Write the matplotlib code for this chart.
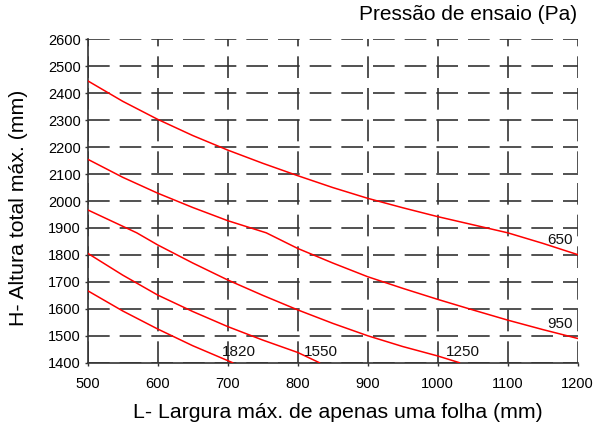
import matplotlib
matplotlib.use("Agg")
import matplotlib.pyplot as plt

plt.rcParams['font.family'] = ['Liberation Sans', 'DejaVu Sans']

# curves (width mm -> height mm)
x_650 = [500, 550, 600, 650, 700, 750, 800, 850, 900, 950, 1000, 1050, 1100, 1150, 1200]
y_650 = [2446, 2370, 2303, 2243, 2189, 2140, 2094, 2050, 2010, 1975, 1942, 1912, 1882, 1843, 1801]

x_950 = [500, 550, 600, 650, 700, 755, 800, 850, 900, 950, 1000, 1050, 1100, 1150, 1200]
y_950 = [2155, 2088, 2029, 1976, 1927, 1882, 1824, 1770, 1719, 1676, 1635, 1596, 1558, 1523, 1490]

x_1250 = [500, 570, 600, 650, 700, 750, 800, 850, 900, 950, 1000, 1031]
y_1250 = [1967, 1882, 1837, 1770, 1707, 1650, 1596, 1546, 1500, 1460, 1425, 1400]

x_1550 = [500, 550, 600, 650, 700, 750, 800, 831]
y_1550 = [1806, 1725, 1651, 1590, 1534, 1484, 1438, 1400]

x_1820 = [500, 550, 600, 650, 707]
y_1820 = [1667, 1592, 1525, 1463, 1400]

curves = [(x_650, y_650), (x_950, y_950), (x_1250, y_1250), (x_1550, y_1550), (x_1820, y_1820)]
labels = ['650', '950', '1250', '1550', '1820']
label_pos = [(1193, 1855), (1193, 1542), (1060, 1441), (858, 1441), (740, 1441)]

xticks = list(range(500, 1201, 100))
yticks = list(range(1400, 2601, 100))

fig = plt.figure(figsize=(5.95, 4.25), dpi=100)
ax = fig.add_axes([0.1474, 0.1466, 0.8235, 0.7609])

for (xs, ys) in curves:
    ax.plot(xs, ys, color='#ff0000', lw=1.1, zorder=3)

for lab, (tx, ty) in zip(labels, label_pos):
    ax.text(tx, ty, lab, ha='right', va='center', fontsize=11, color='#111111', zorder=4)

ax.set_xlim(500, 1200)
ax.set_ylim(1400, 2600)
ax.set_xticks(xticks)
ax.set_yticks(yticks)
ax.tick_params(labelsize=10.5, length=2, width=1, color='#333333')
ax.tick_params(axis='x', pad=8)
ax.tick_params(axis='y', pad=3)

ax.grid(True, color='#333333', lw=1.2, linestyle=(0, (13, 6)))
ax.spines['top'].set_visible(False)
ax.spines['right'].set_visible(False)
for s in ['left', 'bottom']:
    ax.spines[s].set_color('#333333')
    ax.spines[s].set_linewidth(1.2)

ax.set_xlabel('L- Largura máx. de apenas uma folha (mm)', fontsize=15.3, va='center')
ax.xaxis.set_label_coords(0.51, -0.1555)
ax.set_ylabel('H- Altura total máx. (mm)', fontsize=15.3, va='center')
ax.yaxis.set_label_coords(-0.142, 0.48)
fig.text(0.97, 0.965, 'Pressão de ensaio (Pa)', ha='right', va='center', fontsize=15)

fig.savefig('out.png', dpi=100)
